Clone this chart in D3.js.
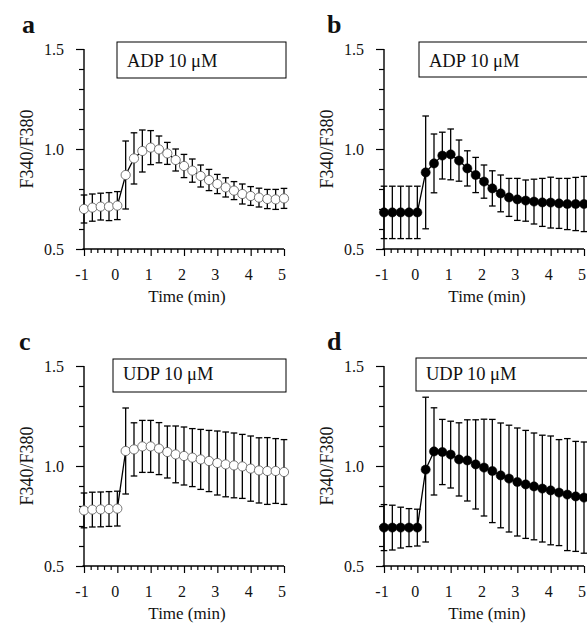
<!DOCTYPE html>
<html>
<head>
<meta charset="utf-8">
<script src="https://cdn.jsdelivr.net/npm/d3@7"></script>
<style>
body { margin: 0; background: #fff; }
text { font-family: "Liberation Serif", "Times New Roman", serif; fill: #111; }
</style>
</head>
<body>
<svg id="chart" width="587" height="623"></svg>
<script>
// time points (min)
let time = [-1, -0.75, -0.5, -0.25, 0, 0.25, 0.5, 0.75, 1, 1.25, 1.5, 1.75, 2,
            2.25, 2.5, 2.75, 3, 3.25, 3.5, 3.75, 4, 4.25, 4.5, 4.75, 5];

// a - ADP, open circles
let meanA = [0.700, 0.707, 0.712, 0.712, 0.717, 0.870, 0.953, 0.990, 1.007, 0.998, 0.978, 0.945, 0.915,
             0.892, 0.865, 0.845, 0.825, 0.808, 0.792, 0.775, 0.765, 0.757, 0.750, 0.748, 0.753];
let sdA   = [0.070, 0.068, 0.067, 0.070, 0.070, 0.170, 0.128, 0.105, 0.085, 0.067, 0.055, 0.055, 0.058,
             0.058, 0.055, 0.053, 0.048, 0.048, 0.045, 0.050, 0.047, 0.047, 0.048, 0.050, 0.050];

// b - ADP, filled circles
let meanB = [0.683, 0.683, 0.683, 0.683, 0.683, 0.883, 0.928, 0.967, 0.973, 0.942, 0.903, 0.870, 0.837,
             0.803, 0.778, 0.758, 0.748, 0.742, 0.737, 0.733, 0.732, 0.728, 0.725, 0.725, 0.725];
let sdB   = [0.131, 0.131, 0.131, 0.131, 0.131, 0.282, 0.147, 0.117, 0.127, 0.103, 0.088, 0.088, 0.083,
             0.088, 0.092, 0.095, 0.105, 0.103, 0.112, 0.120, 0.127, 0.125, 0.128, 0.133, 0.138];

// c - UDP, open circles
let meanC = [0.778, 0.782, 0.783, 0.785, 0.787, 1.075, 1.083, 1.098, 1.098, 1.087, 1.070, 1.058, 1.050,
             1.042, 1.033, 1.025, 1.015, 1.008, 1.003, 0.998, 0.987, 0.978, 0.975, 0.975, 0.970];
let sdC   = [0.087, 0.087, 0.087, 0.087, 0.087, 0.215, 0.133, 0.130, 0.130, 0.130, 0.130, 0.142, 0.145,
             0.145, 0.150, 0.153, 0.160, 0.162, 0.162, 0.160, 0.163, 0.163, 0.167, 0.162, 0.162];

// d - UDP, filled circles
let meanD = [0.692, 0.692, 0.692, 0.692, 0.692, 0.982, 1.073, 1.070, 1.057, 1.033, 1.028, 1.008, 0.992,
             0.975, 0.953, 0.937, 0.920, 0.908, 0.898, 0.887, 0.878, 0.867, 0.857, 0.848, 0.842];
let sdD   = [0.115, 0.112, 0.102, 0.095, 0.092, 0.362, 0.218, 0.163, 0.167, 0.183, 0.203, 0.223, 0.242,
             0.258, 0.262, 0.267, 0.270, 0.270, 0.267, 0.267, 0.272, 0.265, 0.280, 0.275, 0.278];

let panelLetters = ["a", "b", "c", "d"];
let agonists = ["ADP 10 \u03bcM", "ADP 10 \u03bcM", "UDP 10 \u03bcM", "UDP 10 \u03bcM"];
let filled = [false, true, false, true];

let xTicks = [-1, 0, 1, 2, 3, 4, 5];
let xTickLabels = ["-1", "0", "1", "2", "3", "4", "5"];
let yTicks = [0.5, 1.0, 1.5];
let yTickLabels = ["0.5", "1.0", "1.5"];
let yTitle = "F340/F380";
let xTitle = "Time (min)";

// layout
let W = 200, H = 200;
let FONT = "'Liberation Serif', 'Times New Roman', serif";
let layout = [
    {left: 84, top: 49, box: [33, -7, 169, 36], text: [43, 18], letter: [22, 33]},
    {left: 384, top: 49, box: [35, -7, 200, 35], text: [45, 18], letter: [327, 33]},
    {left: 84, top: 366, box: [29, -7, 173, 33], text: [39, 14], letter: [19, 350]},
    {left: 384, top: 366, box: [32, -8, 200, 33], text: [42, 14], letter: [327, 350]}
];

let panels = [
    {mean: meanA, sd: sdA},
    {mean: meanB, sd: sdB},
    {mean: meanC, sd: sdC},
    {mean: meanD, sd: sdD}
];

let svg = d3.select("#chart");

let x = d3.scaleLinear().domain([-1, 5]).range([0, W]);
let y = d3.scaleLinear().domain([0.5, 1.5]).range([H, 0]);

let xMinor = d3.range(-1, 5.001, 0.2).filter(v => Math.abs(v - Math.round(v)) > 0.01);
let yMinor = d3.range(0.6, 1.45, 0.1).filter(v => Math.abs(v - 1) > 0.01);

panels.forEach((p, k) => {
    let L = layout[k];

    svg.append("text")
        .attr("x", L.letter[0])
        .attr("y", L.letter[1])
        .style("font-size", "26px")
        .style("font-weight", "bold")
        .text(panelLetters[k]);

    let g = svg.append("g")
        .attr("transform", "translate(" + L.left + "," + L.top + ")");

    // legend box
    g.append("rect")
        .attr("x", L.box[0])
        .attr("y", L.box[1])
        .attr("width", L.box[2])
        .attr("height", L.box[3])
        .attr("fill", "#fff")
        .attr("stroke", "#000")
        .attr("stroke-width", 1);
    g.append("text")
        .attr("x", L.text[0])
        .attr("y", L.text[1])
        .style("font-size", "18.5px")
        .text(agonists[k]);

    // axes
    let xAxis = g.append("g")
        .attr("transform", "translate(0," + H + ")")
        .call(d3.axisBottom(x).tickValues(xTicks).tickSize(7).tickPadding(12.5)
              .tickFormat((d, i) => xTickLabels[i]))
        .attr("font-size", 16)
        .attr("font-family", FONT);
    xAxis.selectAll(".tick text").attr("dx", -2.5);
    g.append("g")
        .attr("transform", "translate(0," + H + ")")
        .call(d3.axisBottom(x).tickValues(xMinor).tickSize(4).tickFormat(""))
        .select(".domain").remove();

    let yAxis = g.append("g")
        .call(d3.axisLeft(y).tickValues(yTicks).tickSize(8).tickPadding(12)
              .tickFormat((d, i) => yTickLabels[i]))
        .attr("font-size", 16)
        .attr("font-family", FONT);
    g.append("g")
        .call(d3.axisLeft(y).tickValues(yMinor).tickSize(5).tickFormat(""))
        .select(".domain").remove();

    g.selectAll(".tick text").style("font-size", "16px").style("font-family", FONT);
    xAxis.select(".domain").remove();
    yAxis.select(".domain").remove();
    g.append("line")
        .attr("x1", -1.5).attr("x2", W).attr("y1", H).attr("y2", H)
        .attr("stroke", "#000").attr("stroke-width", 1.4);
    g.append("line")
        .attr("x1", 0).attr("x2", 0).attr("y1", 0).attr("y2", H)
        .attr("stroke", "#000").attr("stroke-width", 1.4);
    g.selectAll(".tick line").attr("stroke-width", 1.2);

    // axis titles
    g.append("text")
        .attr("transform", "translate(-51," + (H / 2) + ") rotate(-90)")
        .attr("text-anchor", "middle")
        .style("font-size", "18px")
        .text(yTitle);
    g.append("text")
        .attr("x", W / 2 + 3)
        .attr("y", H + 53)
        .attr("text-anchor", "middle")
        .style("font-size", "17px")
        .text(xTitle);

    let pts = time.map((t, i) => ({t: t, m: p.mean[i], s: p.sd[i]}));

    // error bars
    let eb = g.selectAll(".eb")
        .data(pts)
        .enter()
        .append("g")
        .attr("class", "eb")
        .attr("stroke", "#000")
        .attr("stroke-width", 1.3);
    eb.append("line")
        .attr("x1", d => x(d.t)).attr("x2", d => x(d.t))
        .attr("y1", d => y(d.m - d.s)).attr("y2", d => y(d.m + d.s));
    eb.append("line")
        .attr("x1", d => x(d.t) - 3.3).attr("x2", d => x(d.t) + 3.3)
        .attr("y1", d => y(d.m + d.s)).attr("y2", d => y(d.m + d.s));
    eb.append("line")
        .attr("x1", d => x(d.t) - 3.3).attr("x2", d => x(d.t) + 3.3)
        .attr("y1", d => y(d.m - d.s)).attr("y2", d => y(d.m - d.s));

    // mean line
    g.append("path")
        .datum(pts)
        .attr("fill", "none")
        .attr("stroke", "#000")
        .attr("stroke-width", 1.3)
        .attr("d", d3.line().x(d => x(d.t)).y(d => y(d.m)));

    g.selectAll(".pt")
        .data(pts)
        .enter()
        .append("circle")
        .attr("class", "pt")
        .attr("cx", d => x(d.t))
        .attr("cy", d => y(d.m))
        .attr("r", 4.6)
        .attr("fill", filled[k] ? "#000" : "#fff")
        .attr("stroke", filled[k] ? "#000" : "#555")
        .attr("stroke-width", filled[k] ? 0.5 : 0.8);
});
</script>
</body>
</html>
